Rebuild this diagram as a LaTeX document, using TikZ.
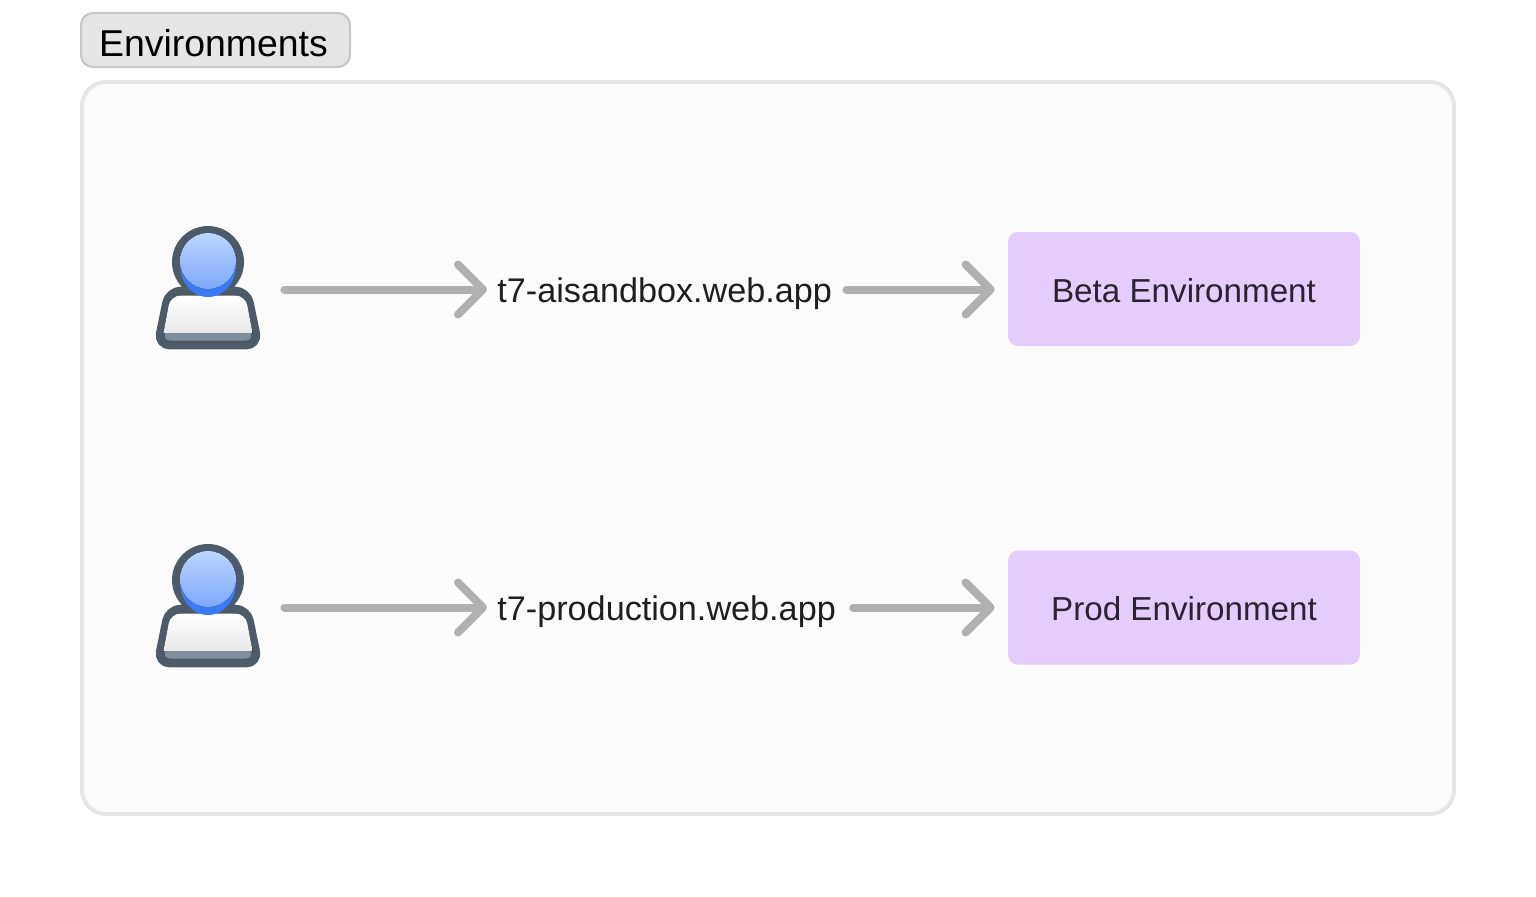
\documentclass[tikz,border=0pt]{standalone}
\usepackage{fontspec}
\setmainfont{Liberation Sans}
\usetikzlibrary{arrows.meta}
\definecolor{panelbg}{HTML}{FBFBFB}
\definecolor{panelline}{HTML}{E5E5E5}
\definecolor{tagline}{HTML}{C6C6C6}
\definecolor{envfill}{HTML}{E4CCFD}
\definecolor{envtext}{HTML}{2B2330}
\definecolor{urlarrow}{HTML}{B0B0B0}
\definecolor{userline}{HTML}{4D5B69}
\definecolor{userband}{HTML}{7F8E9C}
\definecolor{userblue}{HTML}{3B7CF6}
\definecolor{facetop}{HTML}{BDD5FF}
\definecolor{facebottom}{HTML}{7DA8FB}
\tikzset{
  panel/.style={draw=panelline, fill=panelbg, line width=2pt, rounded corners=12pt},
  tagbox/.style={draw=tagline, fill=panelline, line width=1pt, rounded corners=6pt},
  tagtext/.style={inner sep=0pt, font=\fontsize{18.7}{22}\selectfont, text=black},
  envbox/.style={fill=envfill, rounded corners=5pt, minimum width=176pt, minimum height=57pt,
    inner sep=0pt, text height=13.4pt, text depth=0pt, font=\fontsize{16.6}{20}\selectfont, text=envtext},
  urltext/.style={anchor=west, inner sep=0pt, text height=16pt, text depth=3pt,
    font=\fontsize{17.1}{20}\selectfont, text=black!88},
  useranchor/.style={inner sep=0pt, minimum width=52pt, minimum height=62pt},
  urlflow/.style={draw=urlarrow, line width=4pt, line cap=round,
    -{Straight Barb[round, length=12.5pt, width=25pt]}},
  user/.pic={
    % head ring, then shoulders on top of it, then the face
    \fill[userline] (0,-26) ellipse [x radius=36, y radius=36];
    \draw[userline, line width=4.4pt, fill=userband, rounded corners=6pt, line join=round]
      (-50,57) -- (-39,3) -- (39,3) -- (50,57) -- cycle;
    \fill[top color=white, bottom color=black!9]
      (-44.5,45) [rounded corners=5pt] -- (-37.5,7.5) -- (37.5,7.5) [sharp corners] -- (44.5,45) -- cycle;
    \fill[userblue] (0,-23) ellipse [x radius=28, y radius=32];
    \fill[top color=facetop, bottom color=facebottom] (0,-27) ellipse [x radius=28, y radius=28];
  }
}
\begin{document}
\begin{tikzpicture}[x=0.5pt, y=-0.5pt]
  \useasboundingbox (0,0) rectangle (1536,896);

  \draw[tagbox] (81,13) rectangle (350,67);
  \node[tagtext] (envtag) at (213.5,43) {Environments};
  \draw[panel] (82,82) rectangle (1454,814);

  % beta row
  \pic at (208,288) {user};
  \node[useranchor] (betauser) at (208,289.5) {};
  \node[urltext] (betaurl) at (497,289.5) {t7-aisandbox.web.app};
  \node[envbox] (betaenv) at (1184,289) {Beta Environment};
  \draw[urlflow, shorten <=12pt, shorten >=5pt] (betauser.east) -- (betaurl.west);
  \draw[urlflow, shorten <=7pt, shorten >=6.5pt] (betaurl.east) -- (betaenv.west |- betaurl.east);

  % prod row
  \pic at (208,606) {user};
  \node[useranchor] (produser) at (208,607.5) {};
  \node[urltext] (produrl) at (497,607.5) {t7-production.web.app};
  \node[envbox] (prodenv) at (1184,607.5) {Prod Environment};
  \draw[urlflow, shorten <=12pt, shorten >=5pt] (produser.east) -- (produrl.west);
  \draw[urlflow, shorten <=8.5pt, shorten >=6.5pt] (produrl.east) -- (prodenv.west);
\end{tikzpicture}
\end{document}
